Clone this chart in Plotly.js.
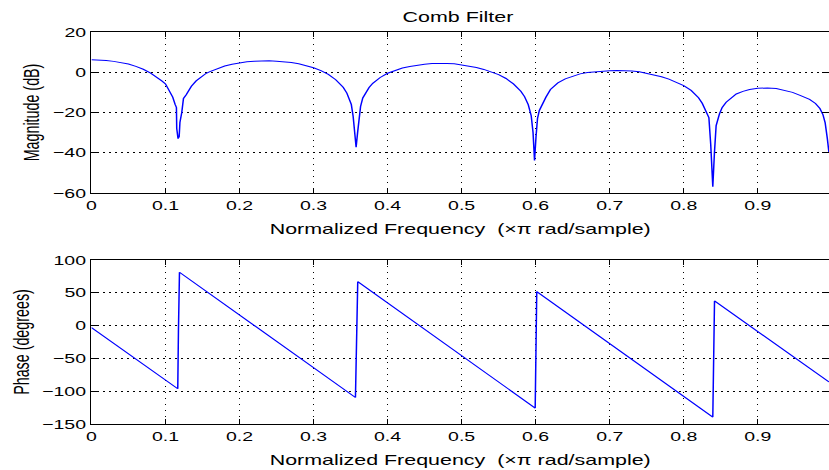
<!DOCTYPE html>
<html>
<head>
<meta charset="utf-8">
<script src="https://cdn.plot.ly/plotly-3.0.1.min.js"></script>
<style>
  html, body { margin: 0; padding: 0; overflow: hidden; background: #fff; }
  #plot { width: 553px; height: 470px; transform: scaleX(1.49910); transform-origin: 0 0; }
</style>
</head>
<body>
<div id="plot"></div>
<script>
// ---- data ----
const magFreq = [0, 0.01, 0.02, 0.03, 0.04, 0.05, 0.06, 0.07, 0.08, 0.09, 0.095, 0.10, 0.105, 0.1098, 0.113, 0.1148, 0.1152, 0.117, 0.1185, 0.1195, 0.122, 0.1243, 0.128, 0.13, 0.135, 0.1414, 0.15, 0.155, 0.16, 0.17, 0.18, 0.19, 0.20, 0.21, 0.22, 0.23, 0.24, 0.25, 0.26, 0.27, 0.28, 0.29, 0.30, 0.31, 0.32, 0.33, 0.335, 0.34, 0.345, 0.3485, 0.351, 0.3535, 0.3555, 0.3575, 0.3595, 0.361, 0.3635, 0.3665, 0.37, 0.375, 0.38, 0.39, 0.40, 0.41, 0.42, 0.43, 0.44, 0.45, 0.46, 0.47, 0.48, 0.49, 0.50, 0.51, 0.52, 0.53, 0.54, 0.55, 0.56, 0.57, 0.58, 0.585, 0.59, 0.594, 0.5965, 0.5985, 0.6005, 0.6025, 0.605, 0.61, 0.614, 0.62, 0.63, 0.64, 0.65, 0.66, 0.67, 0.68, 0.69, 0.70, 0.71, 0.72, 0.73, 0.74, 0.75, 0.76, 0.77, 0.78, 0.79, 0.80, 0.81, 0.82, 0.825, 0.83, 0.834, 0.8365, 0.8393, 0.8415, 0.8438, 0.8483, 0.852, 0.8573, 0.864, 0.871, 0.88, 0.889, 0.90, 0.913, 0.925, 0.935, 0.947, 0.958, 0.97, 0.978, 0.984, 0.988, 0.991, 0.994, 0.9962];
const magDb = [6.2, 6.1, 5.8, 5.4, 4.8, 4.1, 2.9, 1.5, -0.4, -2.8, -4.3, -5.8, -8.8, -12.4, -16, -17.5, -28, -33, -32, -25, -20, -13, -11.2, -9.9, -7.0, -4.3, -1.8, -0.5, 0.3, 1.9, 3.1, 4.0, 4.7, 5.2, 5.5, 5.7, 5.7, 5.5, 5.2, 4.8, 4.2, 3.3, 2.2, 0.8, -1.1, -3.7, -5.3, -7.5, -10.4, -13.0, -16, -22, -30, -37.3, -30, -24, -17, -12.8, -10.5, -7.6, -5.5, -2.6, -0.5, 1.0, 2.1, 2.9, 3.5, 4.0, 4.3, 4.5, 4.4, 4.2, 3.7, 3.1, 2.4, 1.4, 0.2, -1.2, -3.1, -5.8, -9.4, -12.1, -16.1, -21.6, -30, -43.9, -32, -23, -19, -14.5, -12.3, -8.6, -5.3, -3.3, -1.9, -0.8, -0.1, 0.3, 0.7, 0.8, 0.9, 0.8, 0.6, 0.2, -0.5, -1.3, -2.2, -3.4, -4.8, -6.6, -9.0, -12.7, -15.4, -19.5, -22.5, -36, -56.9, -40, -26.5, -20.7, -17.5, -14.9, -12.6, -10.8, -9.5, -8.6, -8.0, -7.8, -8.1, -8.8, -10.0, -11.6, -13.5, -15.5, -18, -21, -25, -33, -40];

const phaseFreq = [0, 0.1166, 0.1175, 0.1189, 0.3566, 0.3575, 0.3597, 0.5994, 0.6005, 0.6015, 0.8393, 0.8405, 0.8416, 0.9962];
const phaseDeg = [-3, -96.3, -9, 81.3, -109.6, -21.8, 67, -125.7, -39.6, 51.8, -139.5, -52, 37.6, -86];

const xTickVals = [0, 0.1, 0.2, 0.3, 0.4, 0.5, 0.6, 0.7, 0.8, 0.9];
const xTickText = ['0', '0.1', '0.2', '0.3', '0.4', '0.5', '0.6', '0.7', '0.8', '0.9'];
const magTicks = [-60, -40, -20, 0, 20];
const phaseTicks = [-150, -100, -50, 0, 50, 100];

const titleText = 'Comb Filter';
const xLabel = 'Normalized Frequency  (\u00d7\u03c0 rad/sample)';
const magLabel = 'Magnitude (dB)';
const phaseLabel = 'Phase (degrees)';

// ---- chart ----
const FONT = 'Liberation Sans, Arial, Helvetica, sans-serif';
const lineStyle = { color: '#0000ff', width: 1 };

const traces = [
  { x: magFreq, y: magDb, type: 'scatter', mode: 'lines', line: lineStyle, xaxis: 'x', yaxis: 'y', hoverinfo: 'skip' },
  { x: phaseFreq, y: phaseDeg, type: 'scatter', mode: 'lines', line: lineStyle, xaxis: 'x2', yaxis: 'y2', hoverinfo: 'skip' },
  // empty traces so the right-hand tick axes are drawn
  { x: [], y: [], type: 'scatter', mode: 'lines', xaxis: 'x', yaxis: 'y3', hoverinfo: 'skip' },
  { x: [], y: [], type: 'scatter', mode: 'lines', xaxis: 'x2', yaxis: 'y4', hoverinfo: 'skip' }
];

function xAxis(anchor) {
  return {
    anchor: anchor, domain: [0, 1], range: [0, 0.99625],
    tickmode: 'array', tickvals: xTickVals, ticktext: xTickText,
    ticks: 'inside', ticklen: 5, tickcolor: '#000', tickwidth: 1,
    showline: true, linecolor: '#000', linewidth: 1, mirror: 'ticks',
    showgrid: true, gridcolor: '#000', gridwidth: 1, griddash: '1px,5px',
    zeroline: false,
    tickfont: { family: FONT, size: 13, color: '#000' },
    title: { text: xLabel, font: { family: FONT, size: 14.3, color: '#000' }, standoff: 12 }
  };
}
function yAxis(anchor, domain, range, ticks, label) {
  return {
    anchor: anchor, domain: domain, range: range,
    tickmode: 'array', tickvals: ticks,
    ticks: 'inside', ticklen: 4.5, tickcolor: '#000', tickwidth: 1,
    showline: true, linecolor: '#000', linewidth: 1, mirror: false,
    showgrid: true, gridcolor: '#000', gridwidth: 1, griddash: '1px,3px',
    zeroline: false,
    tickfont: { family: FONT, size: 13, color: '#000' },
    title: { text: label, font: { family: FONT, size: 14.3, color: '#000' }, standoff: 4.5 }
  };
}
function rightTicks(anchor, overlay, domain, range, ticks) {
  return {
    anchor: anchor, overlaying: overlay, side: 'right', domain: domain, range: range,
    tickmode: 'array', tickvals: ticks,
    ticks: 'inside', ticklen: 4.5, tickcolor: '#000', tickwidth: 1,
    showline: false, showgrid: false, zeroline: false, showticklabels: false
  };
}

const layout = {
  width: 553, height: 470,
  margin: { l: 61, r: 0, t: 32, b: 46, pad: 0 },
  paper_bgcolor: '#fff', plot_bgcolor: '#fff',
  showlegend: false,
  font: { family: FONT, size: 13, color: '#000' },
  title: { text: titleText, font: { family: FONT, size: 14.3, color: '#000' },
           x: 0.497, xref: 'paper', xanchor: 'center', y: 0.964, yref: 'container', yanchor: 'middle' },
  xaxis: xAxis('y'),
  yaxis: yAxis('x', [0.58929, 1], [-60, 20], magTicks, magLabel),
  yaxis3: rightTicks('x', 'y', [0.58929, 1], [-60, 20], magTicks),
  xaxis2: xAxis('y2'),
  yaxis2: yAxis('x2', [0, 0.41837], [-150, 100], phaseTicks, phaseLabel),
  yaxis4: rightTicks('x2', 'y2', [0, 0.41837], [-150, 100], phaseTicks)
};

Plotly.newPlot('plot', traces, layout, { staticPlot: true, displayModeBar: false });
</script>
</body>
</html>
